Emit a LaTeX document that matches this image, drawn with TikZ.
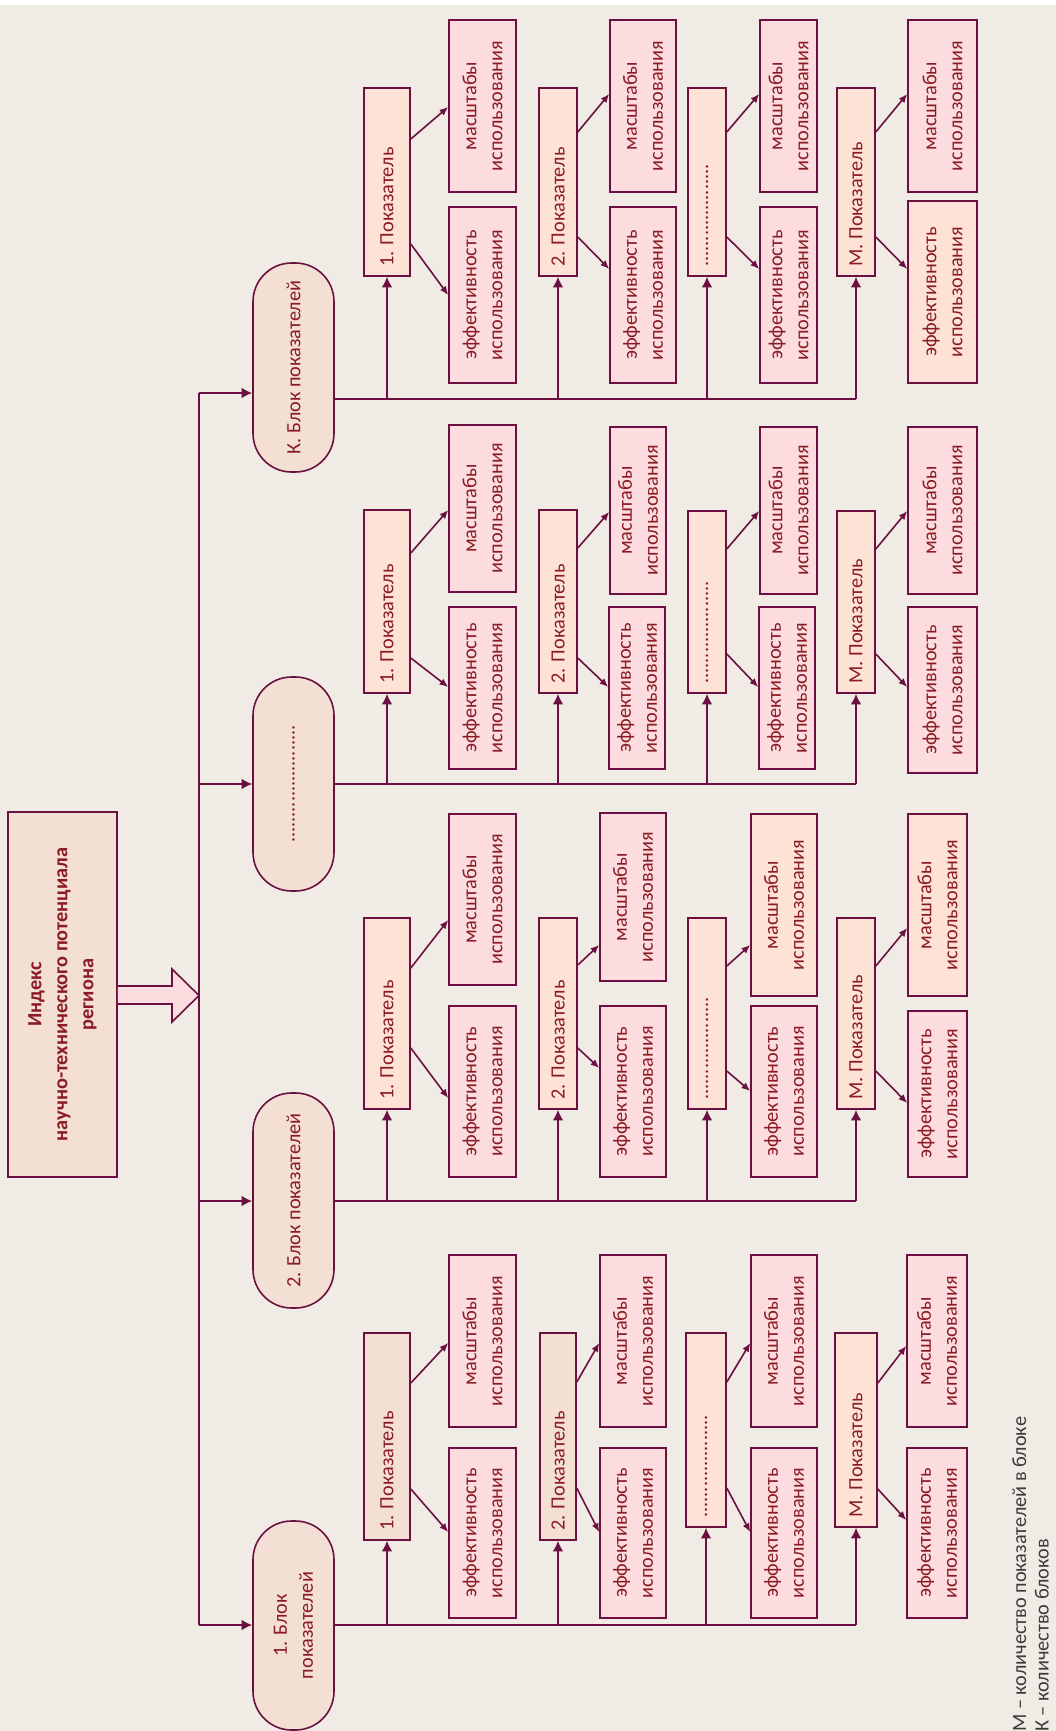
\documentclass[tikz,border=0pt]{standalone}
\usepackage{fontspec}
\setmainfont{Carlito}
\usetikzlibrary{arrows.meta, fit}

\definecolor{bgclr}{HTML}{F0EBE4}
\definecolor{lineclr}{HTML}{6B1040}
\definecolor{txtclr}{HTML}{8A1B25}
\definecolor{notetxt}{HTML}{3C3A3A}
\definecolor{pinkfill}{HTML}{FCDCDE}
\definecolor{peachfill}{HTML}{FDE2D5}
\definecolor{beigefill}{HTML}{F3DFD3}

\begin{document}
\begin{tikzpicture}[x=0.75pt, y=-0.75pt, font=\fontsize{15.2}{19.5}\selectfont]

        % Setup the styles for the boxes and the links
        \tikzset{base style/.style={draw=lineclr, line width=1.2pt, inner sep=0pt},
                 vtext/.style={label={[rotate=90, align=center, inner sep=0pt, text=txtclr]center:#1}},
                 title style/.style={base style, fill=beigefill,
                                     label={[rotate=90, align=center, inner sep=0pt, text=txtclr,
                                             font=\fontsize{15.2}{19.5}\selectfont\bfseries]center:#1}},
                 block style/.style={base style, fill=beigefill, rounded corners=29pt, vtext=#1},
                 index style/.style={base style, fill=peachfill,
                                     label={[rotate=90, anchor=west, inner sep=0pt,
                                             xshift=7.5pt, text=txtclr]south:#1}},
                 index beige/.style={index style=#1, fill=beigefill},
                 usage style/.style={base style, fill=pinkfill, vtext=#1},
                 usage peach/.style={base style, fill=peachfill, vtext=#1},
                 link style/.style={draw=lineclr, line width=1.2pt},
                 up arrow/.style={link style, -{Latex[length=8pt, width=8pt]}},
                 side arrow/.style={link style, -{Latex[length=6.5pt, width=5.5pt]}}}

        % Background
        \useasboundingbox (0,0) rectangle (1056,1731);
        \fill[white] (0,0) rectangle (1056,5);
        \fill[bgclr] (0,5) rectangle (1056,1731);

        % Draw the index box and the wide arrow
        \node[title style={Индекс\\научно-технического потенциала\\региона},
              fit={(8,812) (117,1177)}] (index) {};
        \draw[link style, fill=pinkfill] (index.east |- 0,986) -- (172,986) -- (172,969)
             -- (199,995.5) -- (172,1022) -- (172,1004) -- (index.east |- 0,1004);

        % Draw the blocks
        \node[block style=К. Блок показателей, fit={(253,263) (334,472)}]    (blockK) {};
        \node[block style=......................., fit={(253,677) (334,891)}] (blockD) {};
        \node[block style=2. Блок показателей, fit={(253,1093) (334,1308)}]  (block2) {};
        \node[block style={1. Блок\\показателей}, fit={(253,1521) (334,1730)}] (block1) {};

        % Trunk
        \coordinate (tK) at (199,393);
        \coordinate (tD) at (199,784);
        \coordinate (t2) at (199,1201);
        \coordinate (t1) at (199,1625);
        \draw[link style] (tK) -- (t1);
        \draw[up arrow] (tK) -- (blockK.west |- tK);
        \draw[up arrow] (tD) -- (blockD.west |- tD);
        \draw[up arrow] (t2) -- (block2.west |- t2);
        \draw[up arrow] (t1) -- (block1.west |- t1);

        % K. block
        \node[index style=1. Показатель, fit={(364,88) (410,276)}]       (k1) {};
        \node[usage style={масштабы\\использования}, fit={(449,20) (516,192)}]       (k1m) {};
        \node[usage style={эффективность\\использования}, fit={(449,207) (516,383)}] (k1e) {};
        \node[index style=2. Показатель, fit={(539,88) (577,276)}]       (k2) {};
        \node[usage style={масштабы\\использования}, fit={(610,20) (676,192)}]       (k2m) {};
        \node[usage style={эффективность\\использования}, fit={(610,207) (676,383)}] (k2e) {};
        \node[index style=...................., fit={(688,88) (726,276)}] (k3) {};
        \node[usage style={масштабы\\использования}, fit={(760,20) (817,192)}]       (k3m) {};
        \node[usage style={эффективность\\использования}, fit={(760,207) (817,383)}] (k3e) {};
        \node[index style=М. Показатель, fit={(837,88) (875,276)}]       (k4) {};
        \node[usage style={масштабы\\использования}, fit={(908,20) (977,192)}]       (k4m) {};
        \node[usage peach={эффективность\\использования}, fit={(908,201) (977,383)}] (k4e) {};

        % ... block
        \node[index style=1. Показатель, fit={(364,510) (410,693)}]      (d1) {};
        \node[usage style={масштабы\\использования}, fit={(449,425) (516,592)}]      (d1m) {};
        \node[usage style={эффективность\\использования}, fit={(449,607) (516,769)}] (d1e) {};
        \node[index style=2. Показатель, fit={(539,510) (577,693)}]      (d2) {};
        \node[usage style={масштабы\\использования}, fit={(610,427) (666,594)}]      (d2m) {};
        \node[usage style={эффективность\\использования}, fit={(609,607) (665,769)}] (d2e) {};
        \node[index style=...................., fit={(688,511) (726,693)}] (d3) {};
        \node[usage style={масштабы\\использования}, fit={(760,427) (817,594)}]      (d3m) {};
        \node[usage style={эффективность\\использования}, fit={(759,607) (815,769)}] (d3e) {};
        \node[index style=М. Показатель, fit={(837,511) (875,693)}]      (d4) {};
        \node[usage style={масштабы\\использования}, fit={(908,427) (977,594)}]      (d4m) {};
        \node[usage style={эффективность\\использования}, fit={(908,607) (977,773)}] (d4e) {};

        % 2. block
        \node[index style=1. Показатель, fit={(364,918) (410,1109)}]     (b1) {};
        \node[usage style={масштабы\\использования}, fit={(449,814) (516,985)}]       (b1m) {};
        \node[usage style={эффективность\\использования}, fit={(449,1006) (516,1177)}] (b1e) {};
        \node[index style=2. Показатель, fit={(539,918) (577,1109)}]     (b2) {};
        \node[usage style={масштабы\\использования}, fit={(600,813) (666,981)}]       (b2m) {};
        \node[usage style={эффективность\\использования}, fit={(600,1006) (666,1177)}] (b2e) {};
        \node[index style=...................., fit={(688,918) (726,1109)}] (b3) {};
        \node[usage peach={масштабы\\использования}, fit={(751,814) (817,996)}]       (b3m) {};
        \node[usage style={эффективность\\использования}, fit={(751,1006) (817,1177)}] (b3e) {};
        \node[index style=М. Показатель, fit={(837,918) (875,1109)}]     (b4) {};
        \node[usage peach={масштабы\\использования}, fit={(908,814) (967,996)}]       (b4m) {};
        \node[usage style={эффективность\\использования}, fit={(908,1011) (967,1177)}] (b4e) {};

        % 1. block
        \node[index beige=1. Показатель, fit={(364,1333) (410,1540)}]    (a1) {};
        \node[usage style={масштабы\\использования}, fit={(449,1255) (516,1427)}]      (a1m) {};
        \node[usage style={эффективность\\использования}, fit={(449,1448) (516,1618)}] (a1e) {};
        \node[index beige=2. Показатель, fit={(540,1333) (576,1540)}]    (a2) {};
        \node[usage style={масштабы\\использования}, fit={(600,1255) (666,1427)}]      (a2m) {};
        \node[usage style={эффективность\\использования}, fit={(600,1448) (666,1618)}] (a2e) {};
        \node[index style=...................., fit={(686,1333) (726,1527)}] (a3) {};
        \node[usage style={масштабы\\использования}, fit={(751,1255) (817,1427)}]      (a3m) {};
        \node[usage style={эффективность\\использования}, fit={(751,1448) (817,1618)}] (a3e) {};
        \node[index style=М. Показатель, fit={(835,1333) (877,1527)}]    (a4) {};
        \node[usage style={масштабы\\использования}, fit={(907,1255) (967,1427)}]      (a4m) {};
        \node[usage style={эффективность\\использования}, fit={(907,1448) (967,1618)}] (a4e) {};

        % Buses from the blocks
        \draw[link style] (blockK.east |- 0,399)  -- (k4.south |- 0,399);
        \draw[link style] (blockD.east |- 0,784)  -- (d4.south |- 0,784);
        \draw[link style] (block2.east |- 0,1201) -- (b4.south |- 0,1201);
        \draw[link style] (block1.east |- 0,1625) -- (a4.south |- 0,1625);
        \foreach \b/\y in {k/399, d/784, b/1201, a/1625}
            \foreach \i in {1,...,4}
                \draw[up arrow] (\b\i.south |- 0,\y) -- (\b\i.south);

        % Connect the indicators with their usage boxes
        \foreach \n/\ya/\yb/\yc/\yd in {k1/139/107/244/295,   k2/132/94/237/269,
                                        k3/132/94/237/269,    k4/132/94/237/269,
                                        d1/553/510/658/687,   d2/548/512/658/687,
                                        d3/549/511/654/687,   d4/549/511/654/687,
                                        b1/968/920/1048/1098, b2/965/945/1048/1068,
                                        b3/966/945/1071/1091, b4/966/928/1071/1103,
                                        a1/1383/1343/1489/1532, a2/1382/1343/1488/1532,
                                        a3/1382/1343/1488/1532, a4/1383/1346/1489/1520}
        {
            \draw[side arrow] (\n.east |- 0,\ya) -- (\n m.west |- 0,\yb);
            \draw[side arrow] (\n.east |- 0,\yc) -- (\n e.west |- 0,\yd);
        }

        % Legend
        \node[rotate=90, anchor=north west, align=left, inner sep=0pt, text=notetxt,
              font=\fontsize{15.2}{17}\selectfont] (legend) at (1012,1732)
             {М – количество показателей в блоке\\К – количество блоков};
    \end{tikzpicture}
\end{document}
